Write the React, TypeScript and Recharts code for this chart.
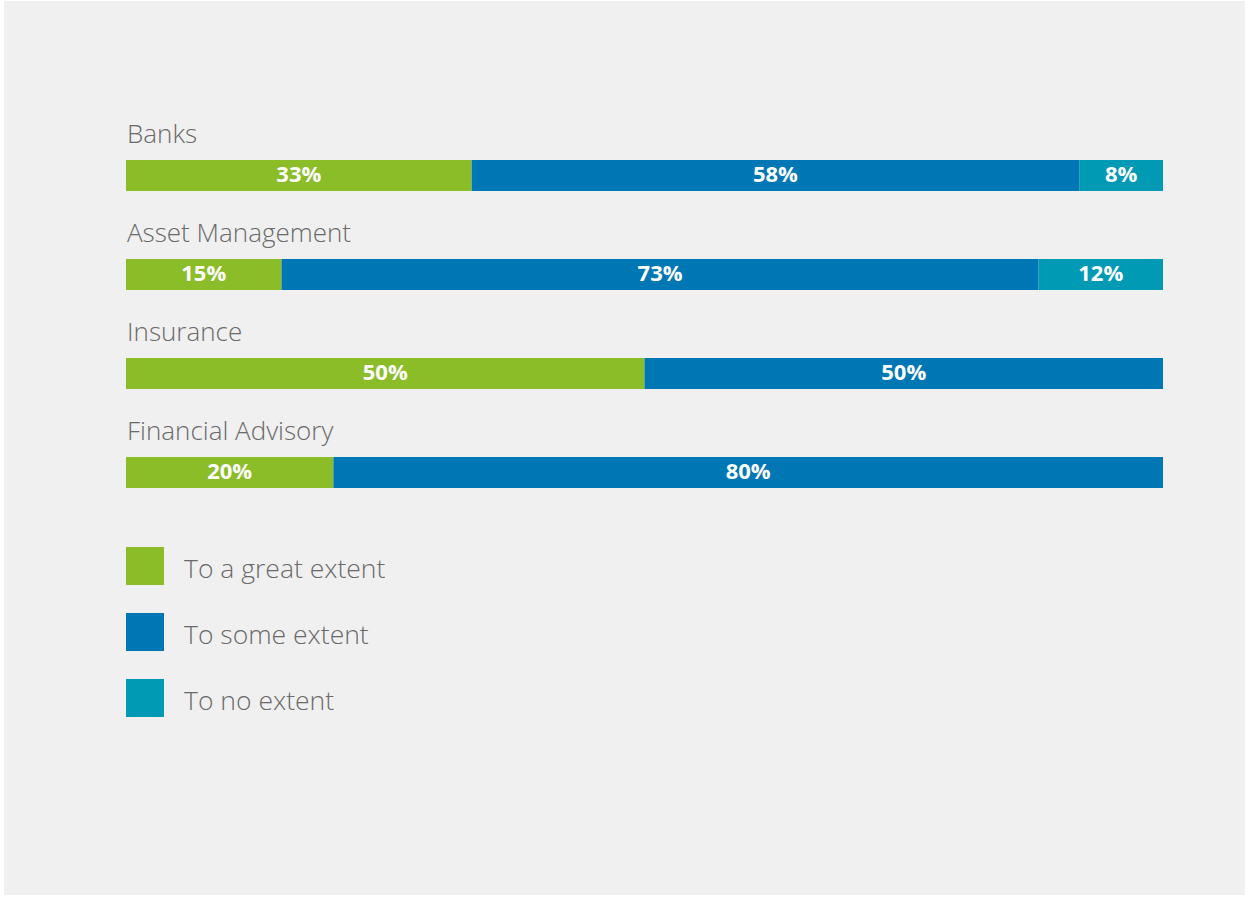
import React from 'react';
import { BarChart, Bar, XAxis, YAxis, LabelList } from 'recharts';

const categories = ['Banks', 'Asset Management', 'Insurance', 'Financial Advisory'];
const greatExtent = [33, 15, 50, 20];
const someExtent = [58, 73, 50, 80];
const noExtent = [8, 12, 0, 0];

const seriesNames = ['To a great extent', 'To some extent', 'To no extent'];
const colors = ['#8abd27', '#0077b5', '#009ab4'];

const data = categories.map((name, i) => ({
  name,
  great: greatExtent[i],
  some: someExtent[i],
  none: noExtent[i],
}));

const FONT = '"Open Sans", sans-serif';

// category name drawn above the left end of each bar
const renderCategory = (props: any) => {
  const { x, y, value } = props;
  return (
    <text
      x={x + 1}
      y={y - 17}
      fill="#6a6a6a"
      fontSize={26}
      fontWeight={300}
      fontFamily={FONT}
      textAnchor="start"
    >
      {value}
    </text>
  );
};

const renderPct = (props: any) => {
  const { x, y, width, height, value } = props;
  if (!value) return null;
  return (
    <text
      x={x + width / 2}
      y={y + height / 2 + 1}
      fill="#ffffff"
      fontSize={22}
      fontWeight={700}
      fontFamily={FONT}
      textAnchor="middle"
      dominantBaseline="middle"
    >
      {value}%
    </text>
  );
};

export default function App() {
  return (
    <div style={{ position: 'relative', width: 1250, height: 898, background: '#ffffff' }}>
      <style>{'body{margin:0}'}</style>
      <div style={{ position: 'absolute', left: 4, top: 1, width: 1241, height: 894, background: '#f0f0f0' }} />
      <div style={{ position: 'absolute', left: 0, top: 0 }}>
        <BarChart
          width={1250}
          height={540}
          data={data}
          layout="vertical"
          stackOffset="expand"
          barSize={31}
          barCategoryGap={0}
          margin={{ top: 126, right: 87, bottom: 18, left: 126 }}
        >
          <XAxis type="number" hide domain={[0, 1]} />
          <YAxis type="category" dataKey="name" hide />
          <Bar dataKey="great" stackId="a" fill={colors[0]} isAnimationActive={false}>
            <LabelList dataKey="great" content={renderPct} />
            <LabelList dataKey="name" content={renderCategory} />
          </Bar>
          <Bar dataKey="some" stackId="a" fill={colors[1]} isAnimationActive={false}>
            <LabelList dataKey="some" content={renderPct} />
          </Bar>
          <Bar dataKey="none" stackId="a" fill={colors[2]} isAnimationActive={false}>
            <LabelList dataKey="none" content={renderPct} />
          </Bar>
        </BarChart>
      </div>
      <div style={{ position: 'absolute', left: 126, top: 547, fontFamily: FONT }}>
        {seriesNames.map((s, i) => (
          <div key={s} style={{ display: 'flex', alignItems: 'center', height: 38, marginBottom: i < 2 ? 28 : 0 }}>
            <div style={{ width: 38, height: 38, background: colors[i] }} />
            <span style={{ marginLeft: 20, marginTop: 4, fontSize: 26.5, fontWeight: 300, color: '#6a6a6a' }}>{s}</span>
          </div>
        ))}
      </div>
    </div>
  );
}
